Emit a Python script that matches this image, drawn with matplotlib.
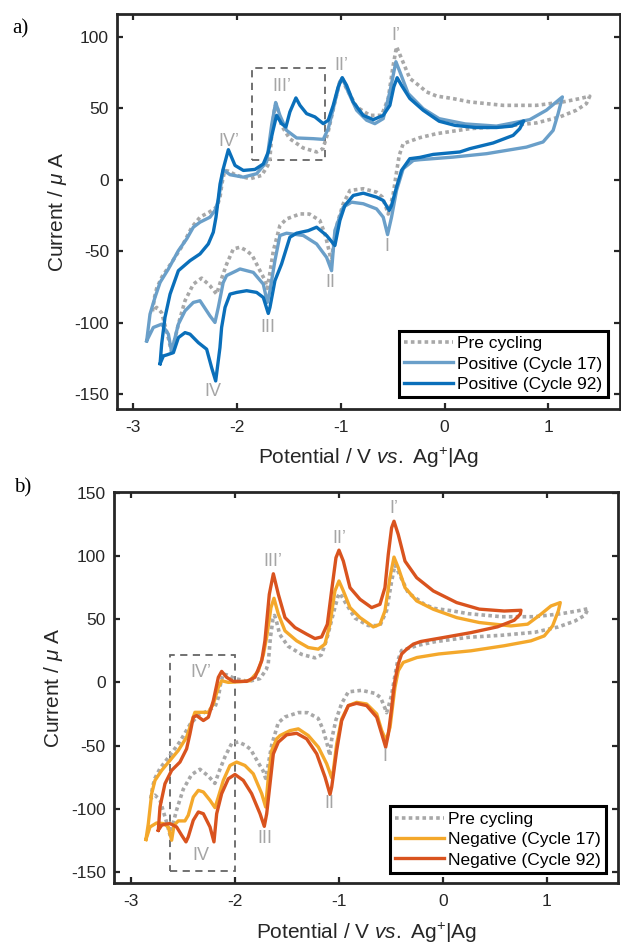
import matplotlib
matplotlib.use("Agg")
import matplotlib.pyplot as plt
from matplotlib.patches import Rectangle

# ── data (potential V, current µA), loop: left vertex -> upper branch -> right vertex -> lower branch
pre_cycling = [
    (-2.81, -92), (-2.79, -82), (-2.77, -76), (-2.72, -68), (-2.625, -57.8), (-2.53, -47),
    (-2.43, -33), (-2.35, -26), (-2.26, -22.5), (-2.19, -19), (-2.16, -12), (-2.14, -2),
    (-2.115, 6.5), (-2.08, 6), (-2.0, 3), (-1.87, 0.7), (-1.76, 3), (-1.70, 10), (-1.68, 15),
    (-1.66, 35), (-1.635, 50), (-1.62, 53), (-1.60, 48), (-1.57, 38), (-1.49, 28.7), (-1.36, 22.2),
    (-1.23, 19.4), (-1.17, 21.7), (-1.12, 33.4), (-1.055, 54.4), (-1.01, 68), (-0.99, 70.5),
    (-0.943, 63.8), (-0.846, 50.9), (-0.718, 45), (-0.606, 45), (-0.542, 56.8), (-0.494, 80),
    (-0.462, 93), (-0.414, 84.8), (-0.334, 70.8), (-0.238, 65.4), (-0.173, 61.4), (-0.077, 58.5),
    (0.083, 56.7), (0.243, 54.4), (0.564, 52), (0.884, 52), (1.14, 54.4), (1.3, 56.7), (1.397, 58.4),
    (1.365, 53.2), (1.269, 48.6), (1.109, 43.9), (0.884, 39.7), (0.564, 37.3), (0.243, 35.7),
    (-0.077, 32.2), (-0.238, 29.4), (-0.33, 27), (-0.398, 25.2), (-0.436, 17), (-0.462, 5.3),
    (-0.494, -10), (-0.52, -18), (-0.542, -24), (-0.56, -20), (-0.6, -12), (-0.654, -8.7),
    (-0.782, -6.3), (-0.91, -7.5), (-0.975, -16.8), (-1.03, -30), (-1.07, -45), (-1.088, -58),
    (-1.11, -50), (-1.15, -38), (-1.2, -28.5), (-1.3, -24), (-1.39, -23.9), (-1.52, -27.4),
    (-1.584, -32), (-1.647, -49.6), (-1.68, -65), (-1.705, -76), (-1.73, -70), (-1.776, -63.6),
    (-1.85, -53), (-1.904, -49.6), (-1.968, -47.2), (-2.032, -48.4), (-2.096, -58.9), (-2.15, -70),
    (-2.193, -80), (-2.257, -74.1), (-2.337, -68.8), (-2.417, -73), (-2.497, -84.6), (-2.561, -101),
    (-2.625, -120.9), (-2.66, -110), (-2.722, -93), (-2.77, -89.3), (-2.81, -92),
]

positive_17 = [
    (-2.866, -112.7), (-2.834, -94), (-2.786, -82.3), (-2.737, -71.8), (-2.657, -62.4), (-2.561, -49.6),
    (-2.481, -41.4), (-2.417, -33.2), (-2.353, -29.7), (-2.257, -26.2), (-2.209, -21.5), (-2.177, -14.5),
    (-2.15, -3), (-2.13, 7), (-2.064, 3.5), (-1.936, 1.8), (-1.808, 4.2), (-1.712, 12.4), (-1.664, 38),
    (-1.625, 54), (-1.584, 45), (-1.52, 34.5), (-1.423, 29.2), (-1.263, 28.7), (-1.167, 28.2),
    (-1.119, 35.7), (-1.071, 49.7), (-1.007, 68.4), (-0.984, 71.3), (-0.927, 61.4), (-0.846, 48.6),
    (-0.75, 41.6), (-0.67, 39.2), (-0.59, 42.7), (-0.526, 61.4), (-0.468, 82.5), (-0.43, 75.5),
    (-0.35, 60.3), (-0.206, 49.7), (-0.052, 42.7), (0.2, 39), (0.5, 37.5), (0.82, 42), (0.98, 48.6),
    (1.134, 57.9),
    (1.093, 46.2), (1.045, 34.5), (0.948, 26.4), (0.788, 22.8), (0.404, 18.2), (0.083, 15.8),
    (-0.238, 14), (-0.3, 13.5), (-0.398, 7.7), (-0.462, -7.5), (-0.51, -26.2), (-0.548, -38.4),
    (-0.59, -26.2), (-0.654, -20.4), (-0.782, -16.8), (-0.895, -15.7), (-0.975, -19.2), (-1.055, -35.5),
    (-1.087, -63.6), (-1.135, -54.3), (-1.231, -44.9), (-1.359, -39), (-1.52, -37.4), (-1.584, -39),
    (-1.632, -56.6), (-1.68, -77.6), (-1.705, -85.8), (-1.744, -73), (-1.84, -64.8), (-1.968, -62.4),
    (-2.0, -63.6), (-2.097, -67), (-2.13, -72), (-2.177, -89.3), (-2.209, -99.8), (-2.257, -95.2),
    (-2.353, -84.6), (-2.417, -85.8), (-2.497, -91.7), (-2.561, -101), (-2.609, -115), (-2.625, -120.9),
    (-2.657, -108), (-2.722, -101), (-2.802, -103.3), (-2.866, -112.7),
]

positive_92 = [
    (-2.737, -128.6), (-2.722, -115), (-2.69, -96.3), (-2.641, -80), (-2.561, -63.6), (-2.449, -56.6),
    (-2.353, -51.9), (-2.273, -44.9), (-2.225, -36.7), (-2.199, -26.2), (-2.18, -15), (-2.16, -3),
    (-2.129, 7.7), (-2.08, 21), (-2.016, 10), (-1.936, 6.5), (-1.824, 7.2), (-1.744, 11), (-1.696, 19.4),
    (-1.654, 33.4), (-1.616, 45), (-1.568, 39.2), (-1.526, 36.9), (-1.488, 47.4), (-1.43, 57.2),
    (-1.391, 52), (-1.327, 46.2), (-1.247, 43.9), (-1.167, 39.2), (-1.119, 41.6), (-1.071, 52),
    (-1.023, 65), (-0.984, 71.3), (-0.943, 66.1), (-0.879, 54.4), (-0.782, 45), (-0.686, 42),
    (-0.59, 45), (-0.526, 52), (-0.488, 65), (-0.456, 71.3), (-0.414, 66), (-0.334, 56.8),
    (-0.206, 48.6), (-0.052, 40.9), (0.1, 38), (0.3, 36.5), (0.5, 36.5), (0.65, 37.5), (0.762, 41.1),
    (0.724, 35.7), (0.66, 31), (0.468, 25.7), (0.243, 21.7), (0.147, 19.4), (-0.109, 17.7),
    (-0.238, 15.6), (-0.334, 14.7), (-0.414, 6.5), (-0.462, -5.2), (-0.51, -18), (-0.532, -21.5),
    (-0.59, -14.5), (-0.654, -12.2), (-0.782, -9.4), (-0.878, -11), (-0.959, -18), (-1.007, -28.5),
    (-1.055, -46), (-1.135, -39), (-1.231, -33.2), (-1.311, -35.6), (-1.424, -37.4), (-1.488, -40.2),
    (-1.568, -58.9), (-1.632, -70.6), (-1.68, -89.3), (-1.696, -93.5), (-1.744, -82.3), (-1.808, -78.8),
    (-1.904, -77.6), (-2.0, -78.8), (-2.064, -80), (-2.112, -89.3), (-2.145, -103.3), (-2.161, -117.4),
    (-2.202, -140.7), (-2.241, -131.4), (-2.289, -118.5), (-2.369, -113.9), (-2.449, -108),
    (-2.497, -106.9), (-2.561, -110.4), (-2.609, -120.9), (-2.673, -122.5), (-2.705, -123.2),
    (-2.737, -128.6),
]

negative_17 = [
    (-2.856, -124.4), (-2.833, -111.8), (-2.801, -88.1), (-2.769, -77.6), (-2.705, -69.7), (-2.625, -61.8),
    (-2.545, -53.9), (-2.465, -43.4), (-2.417, -31.6), (-2.385, -23.7), (-2.337, -23.7), (-2.256, -23.7),
    (-2.208, -17.1), (-2.16, -4), (-2.128, 1.3), (-2.064, 0), (-1.952, 0.5), (-1.856, 1.3), (-1.776, 9),
    (-1.727, 22), (-1.696, 35.5), (-1.654, 59.2), (-1.625, 66.6), (-1.583, 54), (-1.519, 40.8),
    (-1.407, 32.9), (-1.295, 27.6), (-1.199, 26.3), (-1.135, 30.3), (-1.087, 46), (-1.039, 72.4),
    (-1.0, 80.3), (-0.958, 72.4), (-0.894, 59.2), (-0.798, 51.3), (-0.67, 43.9), (-0.606, 46),
    (-0.558, 56.6), (-0.51, 82.9), (-0.471, 99.2), (-0.43, 90.8), (-0.365, 75), (-0.253, 64.5),
    (-0.093, 57.9), (0.131, 51.3), (0.349, 47.4), (0.493, 46.1), (0.653, 44.7), (0.814, 46.1),
    (0.942, 54), (1.038, 60.5), (1.128, 63.2),
    (1.109, 56.6), (1.054, 44.7), (0.974, 36.8), (0.846, 32.9), (0.589, 29), (0.269, 25),
    (-0.04, 22.5), (-0.25, 19.7), (-0.382, 15.8), (-0.43, 9.2), (-0.462, -4), (-0.478, -14.5),
    (-0.509, -35.5), (-0.548, -46), (-0.589, -38.2), (-0.637, -25), (-0.734, -17.1), (-0.83, -15.8),
    (-0.91, -18.4), (-0.974, -29), (-1.022, -48.7), (-1.054, -69.7), (-1.07, -75.5), (-1.118, -64.5),
    (-1.198, -51.3), (-1.295, -42.1), (-1.391, -36.8), (-1.471, -38.2), (-1.567, -42.1), (-1.599, -44.7),
    (-1.647, -54), (-1.679, -75), (-1.705, -98.7), (-1.743, -88.1), (-1.824, -72.4), (-1.904, -65.8),
    (-1.984, -63.1), (-2.048, -65.8), (-2.112, -77.6), (-2.16, -90.8), (-2.192, -99.2), (-2.24, -93.4),
    (-2.304, -86.8), (-2.352, -85.5), (-2.401, -90.8), (-2.449, -105.2), (-2.481, -109.7),
    (-2.545, -109.7), (-2.586, -113.1), (-2.609, -125), (-2.641, -114.5), (-2.689, -111.8),
    (-2.753, -111.3), (-2.817, -114.5), (-2.856, -124.4),
]

negative_92 = [
    (-2.737, -117.1), (-2.721, -98.7), (-2.673, -80.2), (-2.609, -69.7), (-2.529, -63.1), (-2.465, -52.6),
    (-2.433, -40.8), (-2.401, -27.6), (-2.369, -26.3), (-2.304, -30.2), (-2.256, -27.6), (-2.208, -14.5),
    (-2.16, 4), (-2.128, 8.7), (-2.08, 4), (-2.016, 0.8), (-1.888, 0.8), (-1.808, 4), (-1.743, 17.1),
    (-1.712, 32.9), (-1.67, 69.7), (-1.631, 86), (-1.583, 69.7), (-1.519, 51.3), (-1.423, 43.4),
    (-1.311, 38.2), (-1.231, 34.7), (-1.167, 36), (-1.112, 46), (-1.071, 72.4), (-1.029, 98.7),
    (-1.0, 104.7), (-0.958, 96), (-0.894, 75), (-0.798, 65.8), (-0.686, 59.2), (-0.606, 61.8),
    (-0.558, 75), (-0.526, 101.3), (-0.494, 122.4), (-0.471, 127.6), (-0.43, 117.1), (-0.365, 96),
    (-0.253, 82.9), (-0.093, 72.4), (0.131, 63.2), (0.349, 58), (0.589, 56.5), (0.75, 57.1),
    (0.743, 54), (0.685, 49.2), (0.525, 44), (0.269, 39.4), (0.044, 36.1), (-0.212, 32.4),
    (-0.285, 30.3), (-0.349, 26.3), (-0.398, 22.4), (-0.43, 14.5), (-0.462, 1.3), (-0.478, -8),
    (-0.493, -19.7), (-0.525, -40.8), (-0.551, -51.3), (-0.589, -40.8), (-0.637, -27.6), (-0.734, -18.4),
    (-0.83, -16.6), (-0.91, -18.4), (-0.974, -30.3), (-1.022, -53.9), (-1.07, -82.9), (-1.086, -88.7),
    (-1.134, -75), (-1.214, -56.6), (-1.311, -44.7), (-1.407, -40.3), (-1.503, -41.5), (-1.583, -47.3),
    (-1.631, -56.6), (-1.663, -80.2), (-1.695, -104), (-1.718, -114), (-1.759, -104), (-1.84, -88.1),
    (-1.92, -77.6), (-2.0, -72.9), (-2.064, -76.3), (-2.128, -88.1), (-2.176, -104), (-2.202, -126.3),
    (-2.24, -114.5), (-2.304, -104), (-2.352, -102.6), (-2.401, -109.2), (-2.449, -122.3),
    (-2.471, -126.3), (-2.513, -121), (-2.561, -114.5), (-2.625, -111.8), (-2.673, -112.3),
    (-2.705, -113.1), (-2.737, -117.1),
]

# peak labels (text, x, y)
peaks_a = [("I\u2019", -0.47, 101), ("II\u2019", -0.99, 80), ("III\u2019", -1.57, 65), ("IV\u2019", -2.08, 27),
           ("I", -0.557, -47), ("II", -1.099, -72), ("III", -1.702, -103), ("IV", -2.225, -148)]
peaks_b = [("I\u2019", -0.473, 138), ("II\u2019", -1.0, 114), ("III\u2019", -1.637, 96), ("IV\u2019", -2.324, 8),
           ("I", -0.561, -59), ("II", -1.092, -96), ("III", -1.714, -124), ("IV", -2.332, -137)]

labels_a = ["Pre cycling", "Positive (Cycle 17)", "Positive (Cycle 92)"]
labels_b = ["Pre cycling", "Negative (Cycle 17)", "Negative (Cycle 92)"]

# ── style
C_PRE   = "#a8a8a8"
C_POS17 = "#6a9fc9"
C_POS92 = "#0a6fba"
C_NEG17 = "#f4a82b"
C_NEG92 = "#d9531e"
C_LBL   = "#a5a5a5"
C_AX    = "#262626"

plt.rcParams.update({'font.family': ['Liberation Sans', 'DejaVu Sans'],
                     'axes.unicode_minus': False,
                     'mathtext.fontset': 'custom',
                     'mathtext.rm': 'Liberation Sans',
                     'mathtext.it': 'Liberation Sans:italic',
                     'mathtext.bf': 'Liberation Sans:bold'})


def style_ax(ax, xlim, ylim, yticks):
    ax.set_xlim(*xlim)
    ax.set_ylim(*ylim)
    ax.set_xticks([-3, -2, -1, 0, 1])
    ax.set_yticks(yticks)
    for sp in ax.spines.values():
        sp.set_linewidth(2.0)
        sp.set_color(C_AX)
    ax.tick_params(direction='in', top=True, right=True, length=4, width=1.6,
                   color=C_AX, labelsize=12.5, labelcolor=C_AX)
    ax.tick_params(axis='x', pad=8)
    ax.tick_params(axis='y', pad=6)
    ax.set_xlabel("Potential / V $\\it{vs.}$ Ag$^{+}$|Ag", fontsize=15, color=C_AX, labelpad=8)
    ax.set_ylabel("Current / $\\mu$ A", fontsize=15, color=C_AX, labelpad=4)


def draw_panel(ax, series, colors, labels, peaks, box, leg_anchor):
    styles = [dict(ls=(0, (1, 0.9)), lw=2.6), dict(ls='-', lw=2.4), dict(ls='-', lw=2.4)]
    for data, col, lab, st in zip(series, colors, labels, styles):
        xs = [p[0] for p in data]
        ys = [p[1] for p in data]
        ax.plot(xs, ys, color=col, label=lab, solid_joinstyle='round', **st)
    for txt, x, y in peaks:
        ax.text(x, y, txt, color=C_LBL, fontsize=13, ha='center', va='center')
    ax.add_patch(Rectangle((box[0], box[1]), box[2] - box[0], box[3] - box[1], fill=False,
                           ls=(0, (4, 3)), lw=1.3, ec="#666666", zorder=1))
    leg = ax.legend(loc='lower right', bbox_to_anchor=leg_anchor, fontsize=12.5, frameon=True,
                    fancybox=False, framealpha=1, edgecolor='black', borderaxespad=0,
                    handlelength=2.8, handletextpad=0.25, labelspacing=0.3, borderpad=0.3)
    leg.get_frame().set_linewidth(2.2)


fig = plt.figure(figsize=(6.21, 9.43), dpi=100)

ax_a = fig.add_axes([0.189, 0.5663, 0.809, 0.4189])
style_ax(ax_a, (-3.148, 1.686), (-160.3, 115.9), [-150, -100, -50, 0, 50, 100])
draw_panel(ax_a, [pre_cycling, positive_17, positive_92], [C_PRE, C_POS17, C_POS92],
           labels_a, peaks_a, (-1.85, 14, -1.15, 78), (0.976, 0.03))

ax_b = fig.add_axes([0.1836, 0.0633, 0.8116, 0.4153])
style_ax(ax_b, (-3.163, 1.683), (-159.1, 151.0), [-150, -100, -50, 0, 50, 100, 150])
draw_panel(ax_b, [pre_cycling, negative_17, negative_92], [C_PRE, C_NEG17, C_NEG92],
           labels_b, peaks_b, (-2.62, -149, -2.0, 22), (0.976, 0.027))

fig.text(0.019, 0.969, "a)", fontsize=15, family=['Liberation Serif', 'DejaVu Serif'], va='center')
fig.text(0.022, 0.483, "b)", fontsize=15, family=['Liberation Serif', 'DejaVu Serif'], va='center')

fig.savefig("out.png", dpi=100)
